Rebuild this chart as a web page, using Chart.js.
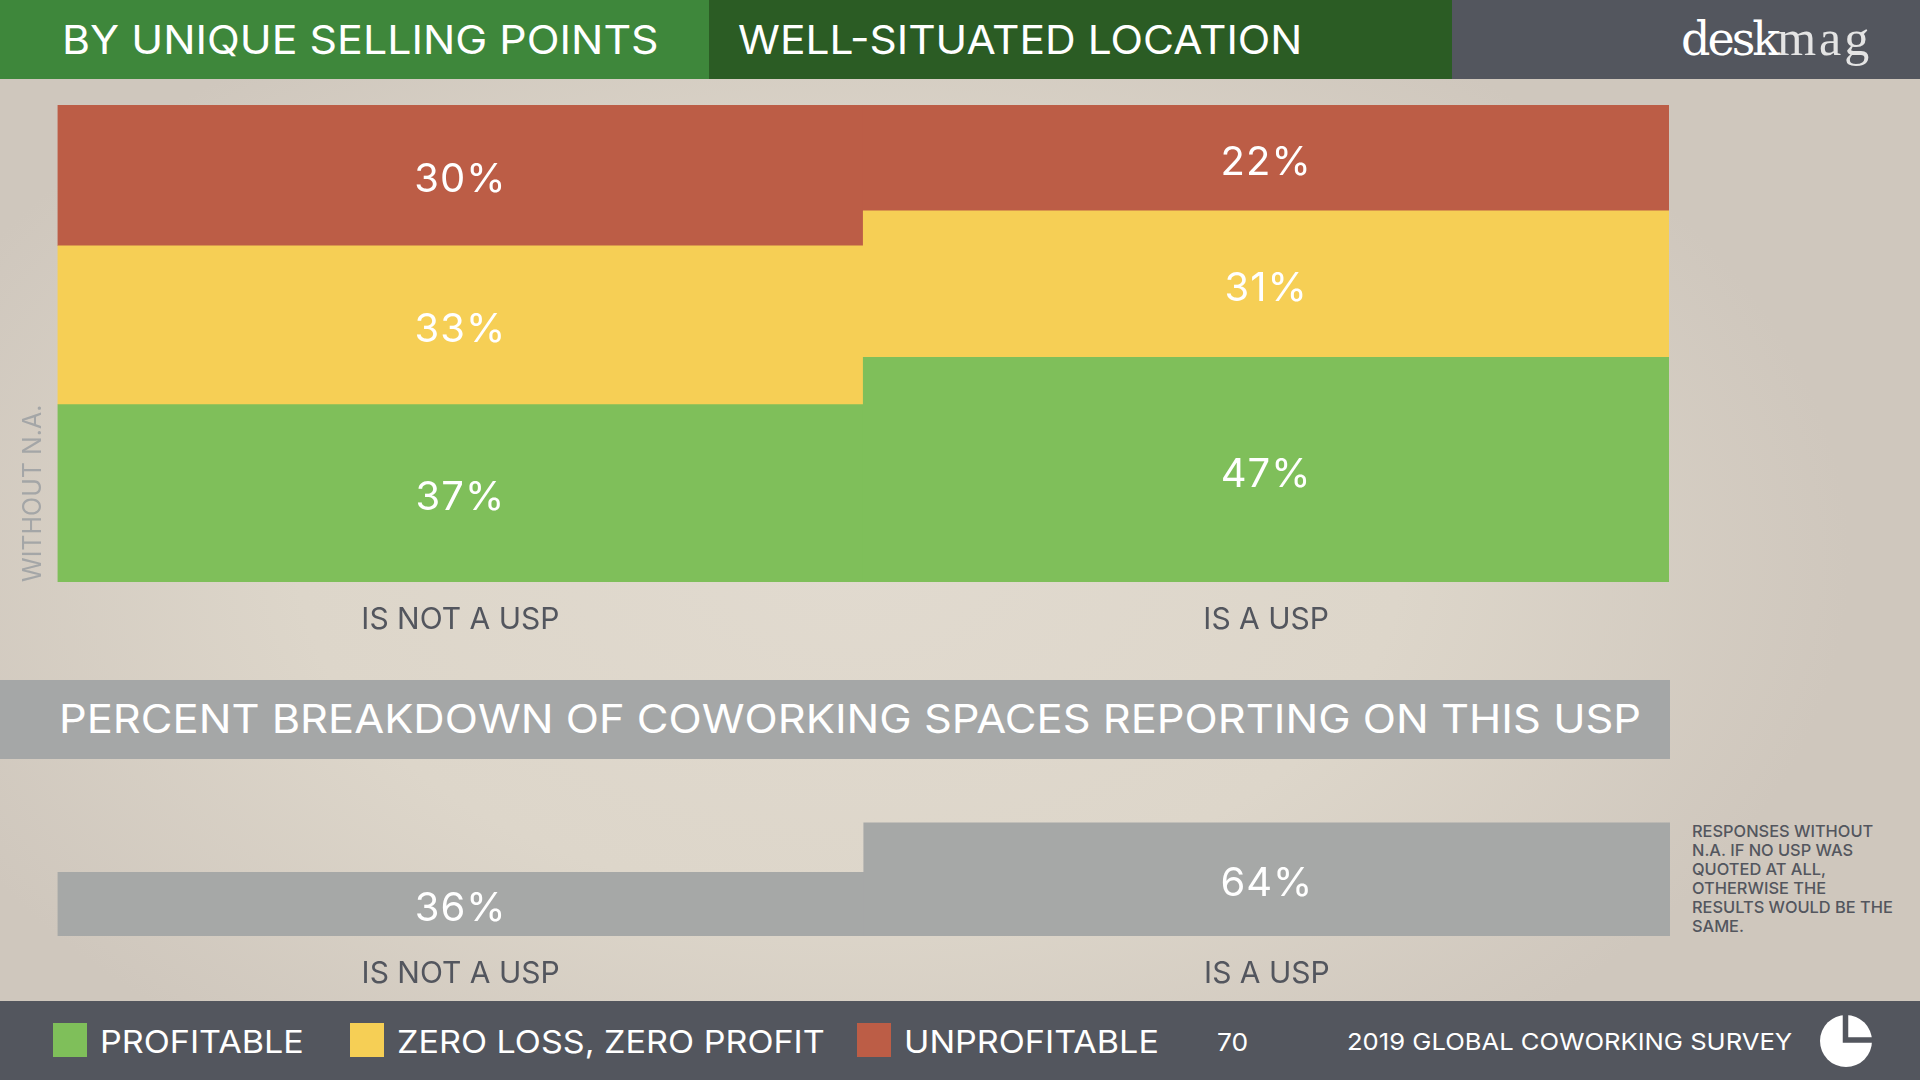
<!DOCTYPE html>
<html>
<head>
<meta charset="utf-8">
<title>Well-situated location</title>
<script src="https://cdn.jsdelivr.net/npm/chart.js@4"></script>
<style>
  html, body { margin: 0; padding: 0; }
  body {
    width: 1920px; height: 1080px; overflow: hidden; position: relative;
    font-family: Inter, "Open Sans", sans-serif;
    background: radial-gradient(ellipse 1000px 620px at 850px 560px, #e1dacf 0%, #ddd6ca 55%, #cfc7bd 100%);
  }
  .box, .txt, canvas, svg { position: absolute; }
  .txt { white-space: nowrap; line-height: 1; }
  /* the installed faces run narrower than the original, so stretch a bit */
  .wide { transform-origin: left center; transform: scaleX(1.1); }
  .head { color: #fff; font-size: 39px; top: 20px; }
  .foot { color: #fff; font-size: 31px; top: 1026px; }
</style>
</head>
<body>
  <div class="box" style="left:0;top:0;width:709px;height:79px;background:#3e873b"></div>
  <div class="box" style="left:709px;top:0;width:743px;height:79px;background:#2b5c24"></div>
  <div class="box" style="left:1452px;top:0;width:468px;height:79px;background:#53565e"></div>
  <div class="txt head wide" style="left:62px">BY UNIQUE SELLING POINTS</div>
  <div class="txt head wide" style="left:738px;transform:scaleX(1.09)">WELL-SITUATED LOCATION</div>
  <div class="txt" style="left:1681px;top:9px;font:46px 'DejaVu Serif';color:#fff;letter-spacing:-3px">desk<span style="font:50px 'Liberation Serif';color:#e4e4e4;letter-spacing:3px">mag</span></div>

  <div class="box" style="left:0;top:680px;width:1670px;height:79px;background:#a5a7a7"></div>
  <div class="txt wide" style="left:59px;top:699px;font-size:39px;color:#fff;transform:scaleX(1.114)">PERCENT BREAKDOWN OF COWORKING SPACES REPORTING ON THIS USP</div>

  <canvas id="profitChart" width="1680" height="570" style="left:0;top:90px"></canvas>
  <canvas id="shareChart" width="1680" height="250" style="left:0;top:750px"></canvas>

  <div class="txt" id="note" style="left:1692px;top:822px;font-size:16.400px;font-weight:500;color:#53565e;line-height:19px"></div>

  <div class="box" style="left:0;top:1001px;width:1920px;height:79px;background:#53565e"></div>
  <div id="legend"></div>
  <div class="txt foot wide" style="left:1217px;top:1031px;font-size:24px">70</div>
  <div class="txt foot wide" style="left:1347px;top:1030px;font-size:23.500px;transform:scaleX(1.09)">2019 GLOBAL COWORKING SURVEY</div>
  <svg style="left:1815px;top:1010px" width="62" height="62">
    <circle cx="31" cy="31" r="26" fill="#fff"></circle>
    <path d="M30.500 0 V30 H62" fill="none" stroke="#53565e" stroke-width="5.500"></path>
  </svg>

<script>
const categories = ["IS NOT A USP", "IS A USP"]
const profitable = [37.2, 47.1]
const zeroProfit = [33.3, 30.7]
const unprofitable = [29.5, 22.2]
const shareOfSpaces = [36, 64]

const legendLabels = ["PROFITABLE", "ZERO LOSS, ZERO PROFIT", "UNPROFITABLE"]
const noteLines = [
  "RESPONSES WITHOUT",
  "N.A. IF NO USP WAS",
  "QUOTED AT ALL,",
  "OTHERWISE THE",
  "RESULTS WOULD BE THE",
  "SAME.",
]

const GREEN = "#7fbf5a"
const YELLOW = "#f6cf55"
const RED = "#bc5d46"
const GREY = "#a6a8a7"

document.getElementById("note").innerHTML = noteLines.join("<br>")

// footer legend, swatches sit at fixed spots in the strip
const legendX = [53, 350, 857]
const legendColors = [GREEN, YELLOW, RED]
document.getElementById("legend").innerHTML = legendLabels
  .map(function (label, i) {
    return (
      '<div class="box" style="left:' + legendX[i] + 'px;top:1023px;width:34px;height:34px;background:' + legendColors[i] + '"></div>' +
      '<div class="txt foot wide" style="left:' + (legendX[i] + 47) + 'px">' + label + "</div>"
    )
  })
  .join("")

// writes the rounded percentage in the middle of each bar
const barValueLabels = {
  id: "barValueLabels",
  afterDatasetsDraw(chart) {
    const ctx = chart.ctx
    ctx.save()
    ctx.fillStyle = "#fff"
    ctx.font = "40px Inter"
    ctx.letterSpacing = "1px"
    ctx.textAlign = "center"
    ctx.textBaseline = "middle"
    chart.data.datasets.forEach(function (ds, d) {
      chart.getDatasetMeta(d).data.forEach(function (bar, i) {
        const mid = (bar.y + bar.base) / 2
        ctx.fillText(Math.round(ds.data[i]) + "%", bar.x, mid + 5)
      })
    })
    ctx.restore()
  },
}

function baseOptions(xHeight, tickPadding, padTop, padRight) {
  return {
    responsive: false,
    animation: false,
    devicePixelRatio: 1,
    layout: { padding: { top: padTop, right: padRight, left: 0, bottom: 0 } },
    plugins: { legend: { display: false }, tooltip: { enabled: false } },
    scales: {
      x: {
        stacked: true,
        border: { display: false },
        grid: { display: false, drawTicks: false },
        ticks: { color: "#53565e", font: { family: "Inter", size: 30 }, padding: tickPadding, maxRotation: 0 },
        afterFit(scale) { scale.height = xHeight },
      },
      y: {
        stacked: true,
        min: 0,
        max: 100,
        border: { display: false },
        grid: { display: false, drawTicks: false },
        ticks: { display: false },
        afterFit(scale) { scale.width = 57.5 },
      },
    },
  }
}

const profitOptions = baseOptions(78, 20, 15, 11)
profitOptions.scales.y.title = {
  display: true,
  text: "WITHOUT N.A.",
  align: "start",
  color: "#a4a6a7",
  font: { family: "Inter", size: 25 },
  padding: { top: 18, bottom: 0 },
}

new Chart(document.getElementById("profitChart"), {
  type: "bar",
  data: {
    labels: categories,
    datasets: [
      { label: legendLabels[0], data: profitable, backgroundColor: GREEN, barPercentage: 1, categoryPercentage: 1 },
      { label: legendLabels[1], data: zeroProfit, backgroundColor: YELLOW, barPercentage: 1, categoryPercentage: 1 },
      { label: legendLabels[2], data: unprofitable, backgroundColor: RED, barPercentage: 1, categoryPercentage: 1 },
    ],
  },
  options: profitOptions,
  plugins: [barValueLabels],
})

new Chart(document.getElementById("shareChart"), {
  type: "bar",
  data: {
    labels: categories,
    datasets: [
      { label: "Share of spaces", data: shareOfSpaces, backgroundColor: GREY, barPercentage: 1, categoryPercentage: 1 },
    ],
  },
  options: baseOptions(64, 20, 9, 10),
  plugins: [barValueLabels],
})
</script>
</body>
</html>
